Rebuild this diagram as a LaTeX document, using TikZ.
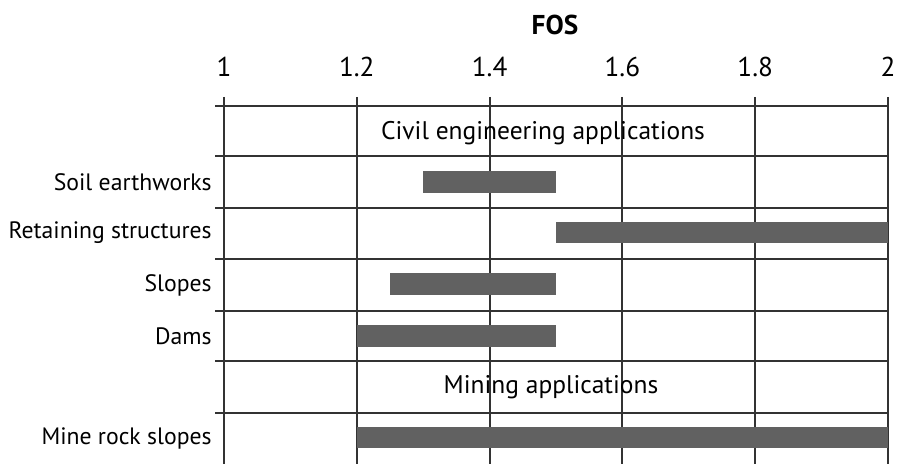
\documentclass[tikz,border=0pt]{standalone}
\usepackage{fontspec}
\setmainfont{PT Sans}

\begin{document}
\begin{tikzpicture}[x=0.02cm,y=0.02cm,
    gridline/.style={black!80,line width=1.1pt},
    bar/.style={fill=black!62,draw=none},
    lbl/.style={font=\fontsize{13.5}{15}\selectfont,inner sep=0pt},
    big/.style={font=\fontsize{15.5}{17}\selectfont,inner sep=0pt}]
  \useasboundingbox (0,0) rectangle (900,464);
  % horizontal lines with ticks on the left
  \foreach \y in {358,308,256,205,153,103,51}
    \draw[gridline] (215,\y) -- (888,\y);
  % vertical lines with ticks on top, labels
  \foreach \v [count=\i] in {1,1.2,1.4,1.6,1.8,2} {
    \draw[gridline] ({224+(\v-1)*664},367) -- ({224+(\v-1)*664},0);
    \node[big,anchor=base] (tick\i) at ({224+(\v-1)*664},387) {\v};
  }
  \node[big,font=\fontsize{15.5}{17}\selectfont\bfseries,anchor=base] (fos) at (555,429) {FOS};
  % bars
  \foreach \a/\b/\lo/\hi in {1.3/1.5/271/293, 1.5/2/221/242, 1.25/1.5/169/191,
      1.2/1.5/117/139, 1.2/2/16/37}
    \fill[bar] ({224+(\a-1)*664},\lo) rectangle ({224+(\b-1)*664},\hi);
  % row labels
  \node[lbl,anchor=east] (soil) at (212,282) {Soil earthworks};
  \node[lbl,anchor=east] (retain) at (212,231) {Retaining structures};
  \node[lbl,anchor=east] (slopes) at (212,179) {Slopes};
  \node[lbl,anchor=east] (dams) at (212,128) {Dams};
  \node[lbl,anchor=east] (mine) at (212,26) {Mine rock slopes};
  \node[lbl,font=\fontsize{14.5}{16}\selectfont] (civil) at (543,331) {Civil engineering applications};
  \node[lbl,font=\fontsize{14.5}{16}\selectfont] (mining) at (551,77) {Mining applications};
\end{tikzpicture}
\end{document}
